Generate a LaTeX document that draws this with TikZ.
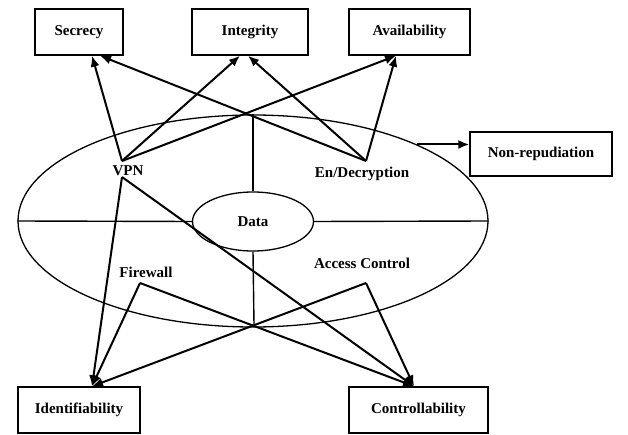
\documentclass[tikz,border=0pt]{standalone}
\usepackage{fontspec}
\setmainfont{Liberation Serif}
\usepackage{tikz}
\usetikzlibrary{arrows.meta,positioning,shapes.geometric}

\begin{document}
\begin{tikzpicture}[x=1pt, y=-1pt,
  box/.style={draw, line width=1.4pt, minimum height=46, inner sep=2pt, font=\fontsize{15}{17}\selectfont\bfseries},
  oval/.style={draw, ellipse, line width=1.3pt, inner sep=0pt},
  lbl/.style={font=\fontsize{15}{17}\selectfont\bfseries, inner sep=0pt},
  arr/.style={line width=2pt, -{Latex[length=11pt, width=9pt]}},
  seg/.style={line width=1.4pt}]
\useasboundingbox (0,0) rectangle (628,435);
% properties
\node[box, minimum width=88] (secrecy) at (79,32) {Secrecy};
\node[box, minimum width=116] (integrity) at (250,32) {Integrity};
\node[box, minimum width=121] (avail) at (409.5,32) {Availability};
\node[box, minimum width=142, minimum height=44] (nonrep) at (541,154) {Non-repudiation};
\node[box, minimum width=122] (ident) at (79,410) {Identifiability};
\node[box, minimum width=139] (control) at (418.5,410) {Controllability};
% rings
\node[oval, minimum width=470, minimum height=212] (outer) at (253,221) {};
\node[oval, minimum width=121, minimum height=59, font=\fontsize{15}{17}\selectfont\bfseries] (data) at (253,221.5) {Data};
\draw[seg] (outer.west) -- (data.west);
\draw[seg] (data.east) -- (outer.east);
\draw[seg] (outer.north) -- (data.north);
% techniques
\node[lbl] (vpn) at (128,171) {VPN};
\node[lbl] (encdec) at (362,174) {En/Decryption};
\node[lbl] (access) at (362,263) {Access Control};
\node[lbl] (firewall) at (146,272) {Firewall};
\coordinate (vpnTop) at (122,161);
\coordinate (vpnLow) at (122,177);
\coordinate (encTop) at (366,161);
\coordinate (fwTop) at (140,283);
\coordinate (acTop) at (366,283);
\coordinate (cross) at (254,325);
\draw[seg] (data.south) -- (cross);
% upward arrows
\draw[arr] (vpnTop) -- ([xshift=13pt]secrecy.south);
\draw[arr] (vpnTop) -- ([xshift=-10pt]integrity.south);
\draw[arr] (vpnTop) -- ([xshift=-13.5pt]avail.south);
\draw[arr] (encTop) -- ([xshift=21pt]secrecy.south);
\draw[arr] (encTop) -- ([xshift=-2pt]integrity.south);
\draw[arr] (encTop) -- ([xshift=-13.5pt]avail.south);
% downward arrows
\draw[arr] (vpnLow) -- ([xshift=13pt]ident.north);
\draw[arr] (fwTop) -- ([xshift=13pt]ident.north);
\draw[arr] (acTop) -- ([xshift=13pt]ident.north);
\draw[arr] (vpnLow) -- ([xshift=-4.5pt]control.north);
\draw[arr] (fwTop) -- ([xshift=-4.5pt]control.north);
\draw[arr] (acTop) -- ([xshift=-4.5pt]control.north);
\draw[arr] (outer.25) -- (outer.25 -| nonrep.west);
\end{tikzpicture}
\end{document}
